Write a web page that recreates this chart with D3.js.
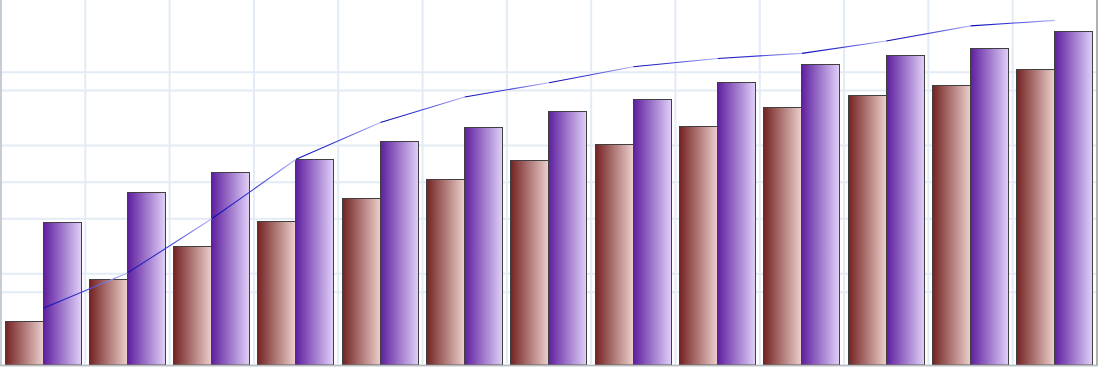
<!DOCTYPE html>
<html>
<head>
<meta charset="utf-8">
<script src="https://cdn.jsdelivr.net/npm/d3@7"></script>
<style>
  html, body { margin: 0; padding: 0; background: #fff; }
  svg { display: block; }
</style>
</head>
<body>
<div id="chart"></div>
<script>
// Chart data (no labels are shown)
const categories = ["1", "2", "3", "4", "5", "6", "7", "8", "9", "10", "11", "12", "13"]
const seriesNames = ["first", "second"]
const firstValues  = [12.0, 23.5, 32.5, 39.3, 45.6, 50.8, 55.9, 60.3, 65.2, 70.4, 73.7, 76.4, 80.8]
const secondValues = [39.0, 47.1, 52.7, 56.2, 61.1, 64.9, 69.3, 72.6, 77.2, 82.1, 84.6, 86.6, 91.0]
const lineValues   = [12.4, 20.1, 31.9, 44.9, 52.9, 58.5, 61.6, 65.1, 66.9, 68.0, 70.7, 74.0, 75.2]
const barTicks  = [0, 20, 40, 60, 80, 100]
const lineTicks = [0, 20, 40, 60, 80]

function drawChart() {
    const WIDTH = 1099
    const HEIGHT = 367

    // plot region
    const left = 1, right = 1097, top = -1.6, bottom = 365

    const svg = d3.select("#chart")
        .append("svg")
        .attr("width", WIDTH)
        .attr("height", HEIGHT)

    const defs = svg.append("defs")

    // horizontal bar gradients
    const grads = [
        {id: "gradBrown",  from: "#732222", to: "#ecd0cc"},
        {id: "gradPurple", from: "#5e1e9e", to: "#e0d0f8"}
    ]
    grads.forEach(g => {
        const lg = defs.append("linearGradient")
            .attr("id", g.id)
            .attr("x1", "0%").attr("x2", "100%")
            .attr("y1", "0%").attr("y2", "0%")
        lg.append("stop").attr("offset", "0%").attr("stop-color", g.from)
        lg.append("stop").attr("offset", "100%").attr("stop-color", g.to)
    })

    // scales
    const x = d3.scaleBand()
        .domain(categories)
        .range([left, right])
        .paddingInner(0)
        .paddingOuter(0)

    const xSub = d3.scaleBand()
        .domain(seriesNames)
        .range([0, x.bandwidth()])
        .paddingInner(0)
        .paddingOuter(0.12)

    const yBar = d3.scaleLinear().domain([0, 100]).range([bottom, top])
    const yLine = d3.scaleLinear().domain([0, 80]).range([bottom, top])

    // grid: horizontal lines of both axes
    const gridColor = "#e3ebf5"
    svg.append("g")
        .attr("transform", `translate(${left},0)`)
        .call(d3.axisLeft(yBar).tickValues(barTicks).tickSize(-(right - left)).tickFormat(""))
        .call(g => g.select(".domain").remove())
        .call(g => g.selectAll("line").attr("stroke", gridColor).attr("stroke-width", 2))

    svg.append("g")
        .attr("transform", `translate(${left},0)`)
        .call(d3.axisLeft(yLine).tickValues(lineTicks).tickSize(-(right - left)).tickFormat(""))
        .call(g => g.select(".domain").remove())
        .call(g => g.selectAll("line").attr("stroke", gridColor).attr("stroke-width", 2))

    // grid: vertical lines on band boundaries
    svg.append("g")
        .selectAll("line")
        .data(categories.slice(1))
        .enter()
        .append("line")
        .attr("x1", d => x(d))
        .attr("x2", d => x(d))
        .attr("y1", 0)
        .attr("y2", bottom)
        .attr("stroke", gridColor)
        .attr("stroke-width", 2)

    // bars
    const rows = categories.map((c, i) => ({
        cat: c,
        vals: [
            {key: "first", value: firstValues[i], fill: "url(#gradBrown)"},
            {key: "second", value: secondValues[i], fill: "url(#gradPurple)"}
        ]
    }))

    svg.append("g")
        .selectAll("g")
        .data(rows)
        .enter()
        .append("g")
        .attr("transform", d => `translate(${Math.floor(x(d.cat))},0)`)
        .selectAll("rect")
        .data(d => d.vals)
        .enter()
        .append("rect")
        .attr("x", d => Math.floor(xSub(d.key)) + 0.5)
        .attr("y", d => Math.round(yBar(d.value)) + 0.5)
        .attr("width", Math.round(xSub.bandwidth()))
        .attr("height", d => bottom - Math.round(yBar(d.value)) - 0.5)
        .attr("fill", d => d.fill)
        .attr("stroke", "#404040")
        .attr("stroke-width", 1)

    // line: each segment shaded dark to light along its run
    const pts = categories.map((c, i) => [x(c) + x.bandwidth() / 2, yLine(lineValues[i])])
    const segs = d3.pairs(pts)

    segs.forEach((s, i) => {
        const lg = defs.append("linearGradient")
            .attr("id", "seg" + i)
            .attr("gradientUnits", "userSpaceOnUse")
            .attr("x1", s[0][0]).attr("y1", s[0][1])
            .attr("x2", s[1][0]).attr("y2", s[1][1])
        lg.append("stop").attr("offset", "0%").attr("stop-color", "#0c0cb4")
        lg.append("stop").attr("offset", "45%").attr("stop-color", "#3636d6")
        lg.append("stop").attr("offset", "100%").attr("stop-color", "#b8b8fa")
    })

    svg.append("g")
        .selectAll("path")
        .data(segs)
        .enter()
        .append("path")
        .attr("d", d => d3.line()(d))
        .attr("fill", "none")
        .attr("stroke", (d, i) => `url(#seg${i})`)
        .attr("stroke-width", 1.1)

    // frame
    svg.append("line")
        .attr("x1", 1).attr("x2", 1).attr("y1", 0).attr("y2", bottom + 1)
        .attr("stroke", "#b4bcc6").attr("stroke-width", 1.5)
    svg.append("line")
        .attr("x1", right).attr("x2", right).attr("y1", 0).attr("y2", bottom + 1)
        .attr("stroke", "#b0b0b0").attr("stroke-width", 2)
    svg.append("line")
        .attr("x1", 0).attr("x2", right + 1).attr("y1", bottom + 0.5).attr("y2", bottom + 0.5)
        .attr("stroke", "#bcbcbc").attr("stroke-width", 1.5)
}

drawChart()
</script>
</body>
</html>
